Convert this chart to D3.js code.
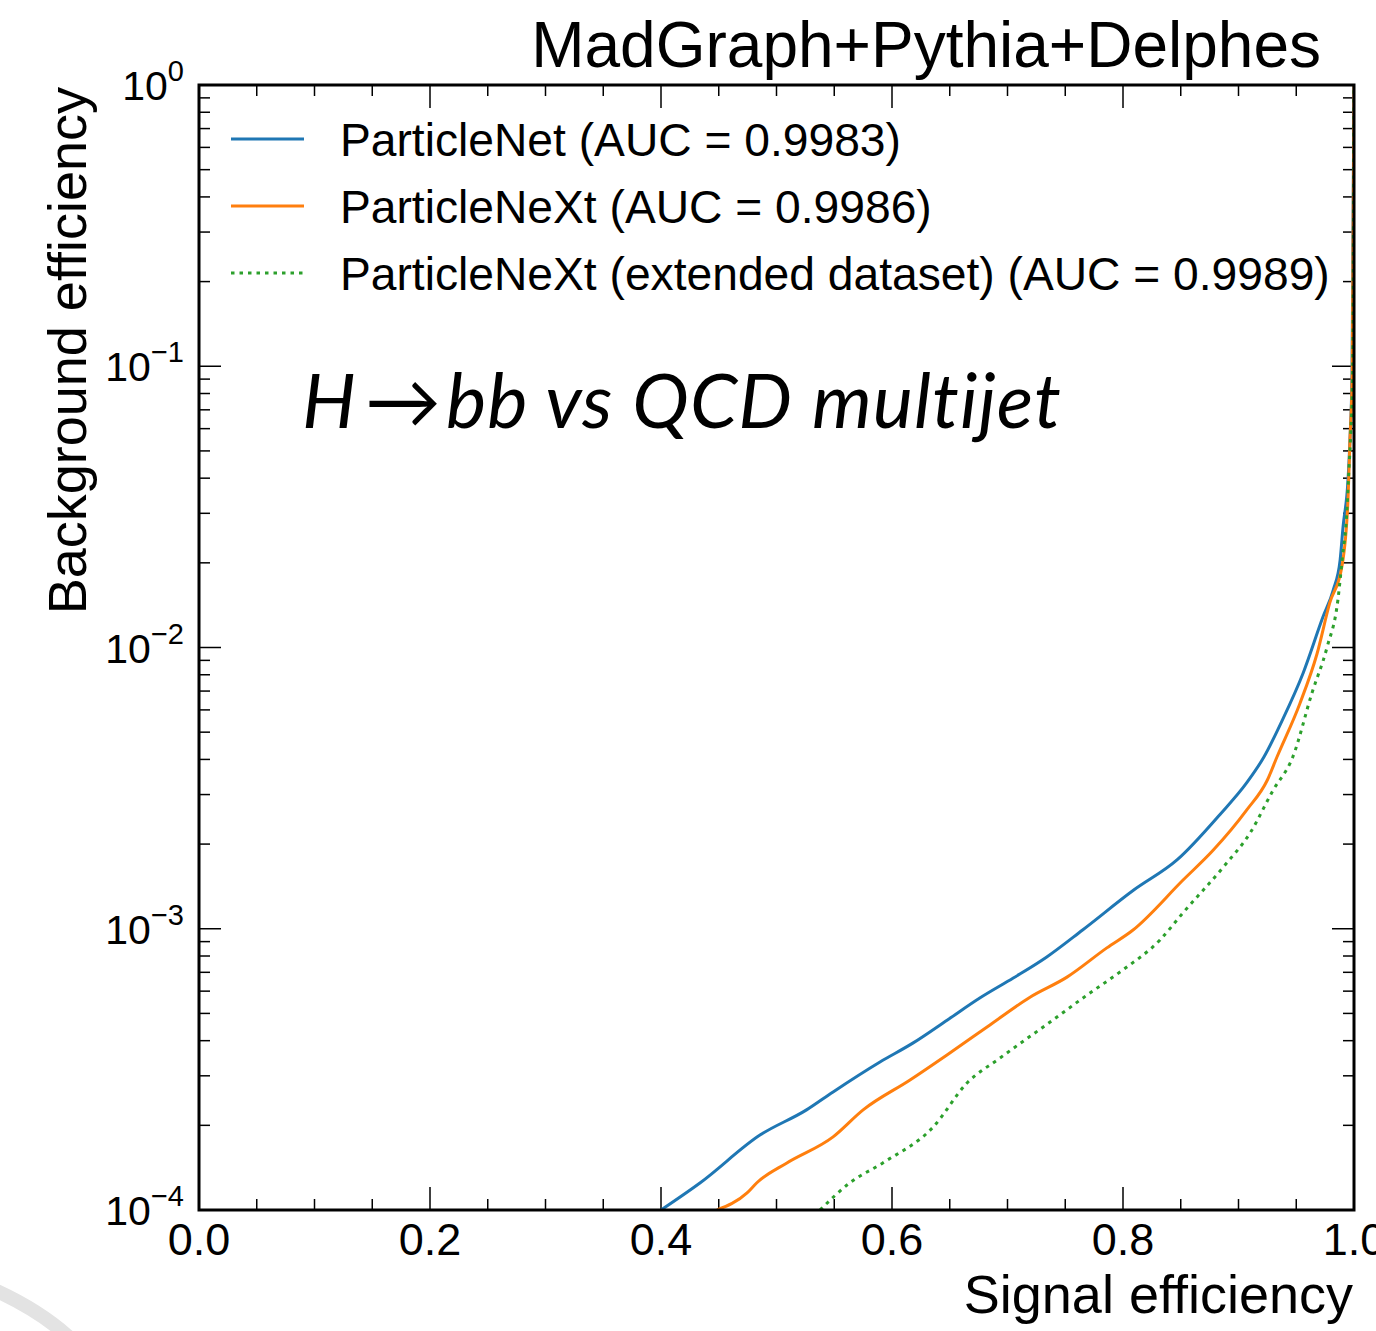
<!DOCTYPE html>
<html>
<head>
<meta charset="utf-8">
<script src="https://cdn.jsdelivr.net/npm/d3@7"></script>
<style>
  body { margin: 0; background: #fff; }
  svg { display: block; }
</style>
</head>
<body>
<svg id="chart"></svg>
<script>
// ROC curves: [signal eff, background eff]
var particleNet = [
  [0.400, 1.00e-4], [0.434, 1.25e-4], [0.486, 1.85e-4], [0.526, 2.27e-4],
  [0.549, 2.63e-4], [0.5896, 3.36e-4], [0.618, 3.92e-4], [0.648, 4.74e-4],
  [0.676, 5.67e-4], [0.705, 6.68e-4], [0.734, 7.94e-4], [0.765, 9.90e-4],
  [0.809, 1.37e-3], [0.847, 1.76e-3], [0.884, 2.55e-3], [0.907, 3.30e-3],
  [0.922, 4.08e-3], [0.938, 5.52e-3], [0.956, 8.12e-3], [0.973, 1.28e-2],
  [0.982, 1.60e-2], [0.988, 2.05e-2], [0.9905, 2.68e-2], [0.9948, 3.94e-2],
  [0.9965, 5.47e-2], [0.9983, 9.50e-2], [1.0, 1.0]
];
var particleNeXt = [
  [0.4485, 1.00e-4], [0.4745, 1.15e-4], [0.483, 1.25e-4], [0.509, 1.47e-4],
  [0.549, 1.82e-4], [0.575, 2.27e-4], [0.6156, 2.90e-4], [0.6476, 3.56e-4],
  [0.6848, 4.55e-4], [0.7195, 5.71e-4], [0.7515, 6.73e-4], [0.786, 8.55e-4],
  [0.8087, 9.90e-4], [0.852, 1.49e-3], [0.878, 1.90e-3], [0.907, 2.64e-3],
  [0.925, 3.38e-3], [0.9333, 4.08e-3], [0.953, 6.30e-3], [0.968, 9.50e-3],
  [0.979, 1.44e-2], [0.9896, 1.95e-2], [0.9948, 3.34e-2], [0.9965, 5.47e-2],
  [0.9985, 9.50e-2], [1.0, 1.0]
];
var particleNeXtExt = [
  [0.5377, 1.00e-4], [0.5636, 1.25e-4], [0.592, 1.47e-4], [0.6355, 1.97e-4],
  [0.665, 2.83e-4], [0.6935, 3.47e-4], [0.7394, 4.74e-4], [0.7688, 5.81e-4],
  [0.7974, 7.02e-4], [0.832, 9.12e-4], [0.852, 1.14e-3], [0.887, 1.66e-3],
  [0.910, 2.19e-3], [0.930, 3.11e-3], [0.947, 4.08e-3], [0.9636, 6.89e-3],
  [0.9766, 1.00e-2], [0.9861, 1.48e-2], [0.990, 2.10e-2], [0.9935, 2.90e-2],
  [0.9955, 4.20e-2], [0.9972, 5.80e-2], [0.9988, 9.50e-2], [1.0, 1.0]
];
var seriesNames = [
  "ParticleNet (AUC = 0.9983)",
  "ParticleNeXt (AUC = 0.9986)",
  "ParticleNeXt (extended dataset) (AUC = 0.9989)"
];
var xTicks = [0.0, 0.2, 0.4, 0.6, 0.8, 1.0];
var yTickExps = [0, -1, -2, -3, -4];

var width = 1376, height = 1331;
var margin = { left: 199, right: 22, top: 85, bottom: 121 };

var svg = d3.select("#chart").attr("width", width).attr("height", height);

// faint grey arc in the bottom-left corner of the original screenshot
svg.append("path")
   .attr("d", "M -10 1288 Q 40 1310 72 1340")
   .attr("fill", "none")
   .attr("stroke", "#e3e3e3")
   .attr("stroke-width", 14);

var x = d3.scaleLinear().domain([0, 1]).range([margin.left, width - margin.right]);
var y = d3.scaleLog().domain([1e-4, 1]).range([height - margin.bottom, margin.top]);

var x0 = x(0), x1 = x(1), y0 = y(1e-4), y1 = y(1);

svg.append("clipPath").attr("id", "plotclip")
   .append("rect").attr("x", x0).attr("y", y1).attr("width", x1 - x0).attr("height", y0 - y1);

// ticks (inward, on all four sides)
var ticks = svg.append("g").attr("stroke", "#000").attr("stroke-width", 1.5);
var xMinor = d3.range(0, 1.0001, 0.05).filter(function(v) { return Math.abs(v * 5 - Math.round(v * 5)) > 1e-6; });
xTicks.forEach(function(v) {
  ticks.append("line").attr("x1", x(v)).attr("x2", x(v)).attr("y1", y0).attr("y2", y0 - 23);
  ticks.append("line").attr("x1", x(v)).attr("x2", x(v)).attr("y1", y1).attr("y2", y1 + 23);
});
xMinor.forEach(function(v) {
  ticks.append("line").attr("x1", x(v)).attr("x2", x(v)).attr("y1", y0).attr("y2", y0 - 11);
  ticks.append("line").attr("x1", x(v)).attr("x2", x(v)).attr("y1", y1).attr("y2", y1 + 11);
});
yTickExps.forEach(function(e) {
  var py = y(Math.pow(10, e));
  ticks.append("line").attr("x1", x0).attr("x2", x0 + 22).attr("y1", py).attr("y2", py);
  ticks.append("line").attr("x1", x1).attr("x2", x1 - 22).attr("y1", py).attr("y2", py);
  if (e > -4) {
    for (var k = 2; k <= 9; k++) {
      var pm = y(k * Math.pow(10, e - 1));
      ticks.append("line").attr("x1", x0).attr("x2", x0 + 11).attr("y1", pm).attr("y2", pm);
      ticks.append("line").attr("x1", x1).attr("x2", x1 - 11).attr("y1", pm).attr("y2", pm);
    }
  }
});

// curves
var line = d3.line()
  .x(function(d) { return x(d[0]); })
  .y(function(d) { return y(d[1]); })
  .curve(d3.curveMonotoneX);
var curves = svg.append("g").attr("clip-path", "url(#plotclip)").attr("fill", "none").attr("stroke-width", 3);
curves.append("path").datum(particleNet).attr("d", line).attr("stroke", "#1f77b4");
curves.append("path").datum(particleNeXt).attr("d", line).attr("stroke", "#ff7f0e");
curves.append("path").datum(particleNeXtExt).attr("d", line).attr("stroke", "#2ca02c")
      .attr("stroke-dasharray", "3.5,5");

// frame
svg.append("rect").attr("x", x0).attr("y", y1).attr("width", x1 - x0).attr("height", y0 - y1)
   .attr("fill", "none").attr("stroke", "#000").attr("stroke-width", 3);

var font = "'Liberation Sans', Arial, Helvetica, sans-serif";

// x tick labels
svg.append("g").selectAll("text").data(xTicks).enter().append("text")
   .attr("x", function(d) { return x(d); })
   .attr("y", 1255)
   .attr("text-anchor", "middle")
   .attr("font-family", font).attr("font-size", 45)
   .text(function(d) { return d3.format(".1f")(d); });

// y tick labels
yTickExps.forEach(function(e) {
  var t = svg.append("text")
     .attr("x", 184).attr("y", y(Math.pow(10, e)) + 15)
     .attr("text-anchor", "end")
     .attr("font-family", font).attr("font-size", 41);
  t.append("tspan").text("10");
  t.append("tspan").attr("dy", -19).attr("font-size", 29).text(e === 0 ? "0" : "\u2212" + (-e));
});

// axis labels
svg.append("text")
   .attr("x", x1 - 1).attr("y", 1313)
   .attr("text-anchor", "end")
   .attr("font-family", font).attr("font-size", 54)
   .text("Signal efficiency");
svg.append("text")
   .attr("transform", "translate(86,87) rotate(-90)")
   .attr("text-anchor", "end")
   .attr("font-family", font).attr("font-size", 54)
   .text("Background efficiency");

// title
svg.append("text")
   .attr("x", 1321).attr("y", 67)
   .attr("text-anchor", "end")
   .attr("font-family", font).attr("font-size", 64)
   .text("MadGraph+Pythia+Delphes");

// process label
var proc = svg.append("text")
   .attr("x", 302).attr("y", 428)
   .attr("font-family", "Lato, 'Open Sans', sans-serif").attr("font-size", 76)
   .attr("letter-spacing", 1)
   .style("font-variant-ligatures", "none")
   .attr("font-style", "italic");
proc.append("tspan").text("H");
proc.append("tspan").attr("font-style", "normal").attr("dx", 8).text("\u2192");
proc.append("tspan").attr("dx", 4).text("bb vs QCD multijet");

// legend
var legendColors = ["#1f77b4", "#ff7f0e", "#2ca02c"];
var legendY = [139, 206, 273];
seriesNames.forEach(function(name, i) {
  var l = svg.append("line")
     .attr("x1", 231).attr("x2", 304).attr("y1", legendY[i]).attr("y2", legendY[i])
     .attr("stroke", legendColors[i]).attr("stroke-width", 3);
  if (i === 2) l.attr("stroke-dasharray", "3.5,5");
  svg.append("text")
     .attr("x", 340).attr("y", legendY[i] + 17)
     .attr("font-family", font).attr("font-size", 46.2)
     .text(name);
});
</script>
</body>
</html>
